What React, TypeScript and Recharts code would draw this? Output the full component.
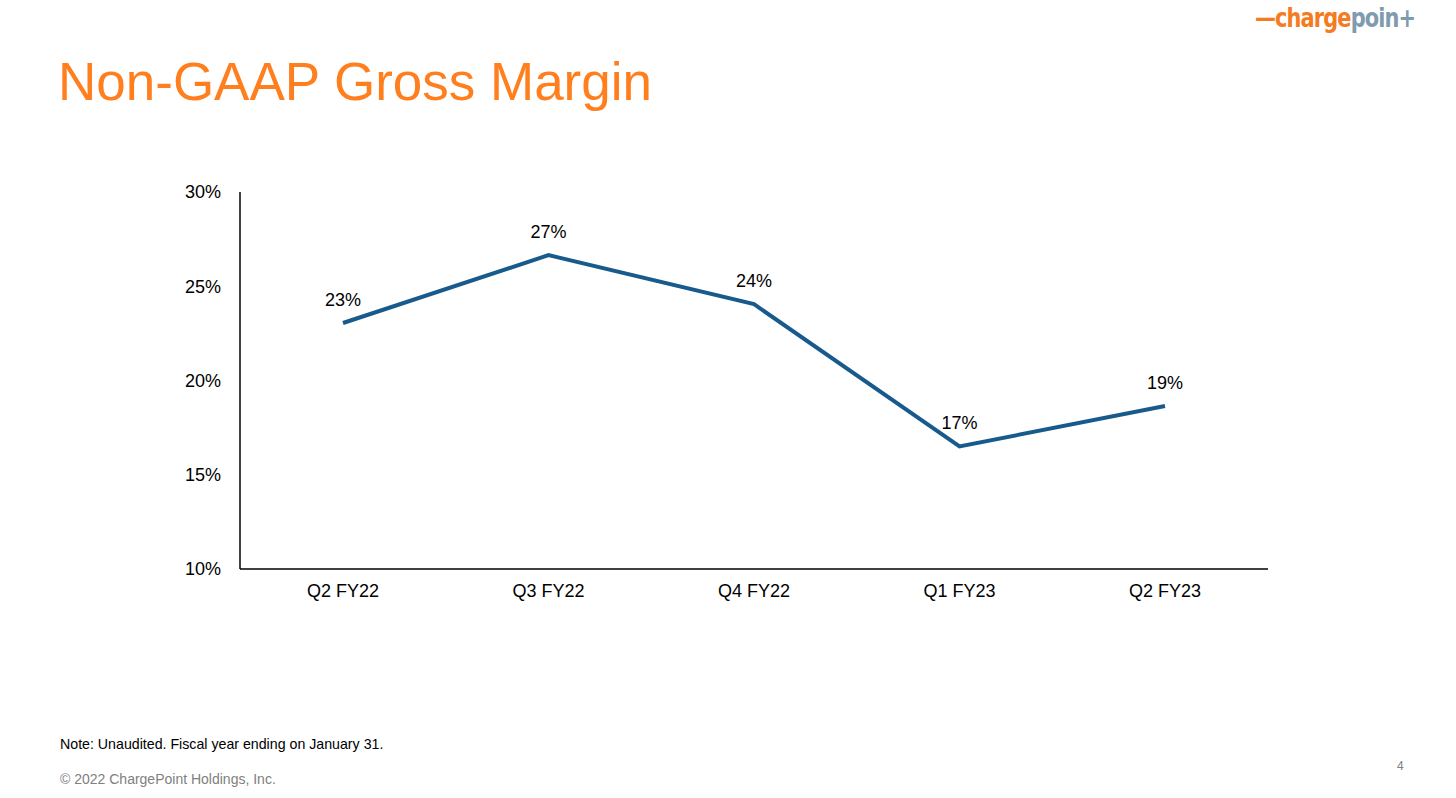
import React from "react";
import { LineChart, Line, XAxis, YAxis, LabelList } from "recharts";

const categories = ["Q2 FY22", "Q3 FY22", "Q4 FY22", "Q1 FY23", "Q2 FY23"];
const marginValues = [23.05, 26.65, 24.05, 16.5, 18.65];
const marginLabels = ["23%", "27%", "24%", "17%", "19%"];
const yTicks = [10, 15, 20, 25, 30];

const data = categories.map((c, i) => ({ name: c, value: marginValues[i], label: marginLabels[i] }));

const FONT = "Liberation Sans, Arial, sans-serif";

export default function App() {
  return (
    <div style={{ position: "absolute", left: 0, top: 0, width: 1456, height: 798, background: "#fff", fontFamily: FONT, overflow: "hidden" }}>
      <div style={{ position: "absolute", left: 58, top: 52, fontSize: 53, color: "#FF7F1E", lineHeight: "60px", whiteSpace: "nowrap" }}>
        Non-GAAP Gross Margin
      </div>
      <div style={{ position: "absolute", left: 1255, top: 0, fontSize: 27, lineHeight: "36px", fontWeight: 700, fontFamily: "DejaVu Sans Condensed, DejaVu Sans, sans-serif", letterSpacing: -1, whiteSpace: "nowrap", transform: "scaleX(0.86)", transformOrigin: "left center" }}>
        <span style={{ color: "#F47B20" }}>—charge</span>
        <span style={{ color: "#7F9BAE" }}>poin+</span>
      </div>
      <div style={{ position: "absolute", left: 0, top: 0 }}>
        <LineChart width={1456} height={798} data={data} margin={{ top: 192, right: 188, bottom: 199, left: 180 }}>
          <XAxis
            dataKey="name"
            height={30}
            padding={{ left: 103, right: 103 }}
            axisLine={{ stroke: "#000", strokeWidth: 1.5 }}
            tickLine={false}
            tick={{ fill: "#000", fontSize: 18, fontFamily: FONT }}
            tickMargin={9}
          />
          <YAxis
            width={60}
            domain={[10, 30]}
            ticks={yTicks}
            tickFormatter={(v: number) => `${v}%`}
            axisLine={{ stroke: "#000", strokeWidth: 1.5 }}
            tickLine={false}
            tick={{ fill: "#000", fontSize: 18, fontFamily: FONT }}
            tickMargin={13}
          />
          <Line
            type="linear"
            dataKey="value"
            stroke="#185A8C"
            strokeWidth={4}
            dot={false}
            isAnimationActive={false}
          >
            <LabelList dataKey="label" position="top" offset={17} fill="#000" fontSize={18} fontFamily={FONT} />
          </Line>
        </LineChart>
      </div>
      <div style={{ position: "absolute", left: 60, top: 736, fontSize: 14.2, color: "#000", whiteSpace: "nowrap" }}>
        Note: Unaudited. Fiscal year ending on January 31.
      </div>
      <div style={{ position: "absolute", left: 60, top: 771, fontSize: 14, color: "#808080", whiteSpace: "nowrap" }}>
        © 2022 ChargePoint Holdings, Inc.
      </div>
      <div style={{ position: "absolute", left: 1397, top: 759, fontSize: 12, color: "#808080" }}>4</div>
    </div>
  );
}
